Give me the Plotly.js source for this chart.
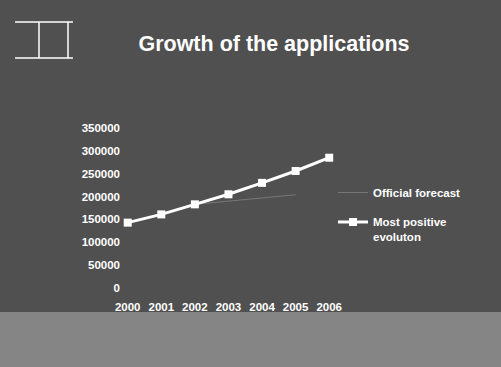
<!DOCTYPE html>
<html>
<head>
<meta charset="utf-8">
<script src="https://cdn.plot.ly/plotly-3.0.1.min.js"></script>
<style>
  html, body { margin: 0; padding: 0; background: #505050; }
  #chart { width: 501px; height: 367px; }
</style>
</head>
<body>
<div id="chart"></div>
<script>
// Data
const years = ['2000', '2001', '2002', '2003', '2004', '2005', '2006'];
const mostPositive = [143000, 161000, 183000, 205000, 230000, 256000, 285000];
const officialForecast = [143000, 161000, 183000, 190000, 197000, 204000, null];
const yTicks = [0, 50000, 100000, 150000, 200000, 250000, 300000, 350000];

const W = 501, H = 367;
const L = 121, R = 346, T = 128, B = 288;
const px = x => (x - L) / (R - L);
const py = y => (B - y) / (B - T);

const FONT = 'Liberation Sans, Arial, Helvetica, sans-serif';
const legendFont = { family: FONT, size: 11.5, color: '#ffffff', weight: 'bold' };

const traces = [
  {
    x: years, y: officialForecast, name: 'Official forecast',
    type: 'scatter', mode: 'lines', legend: 'legend',
    line: { color: 'rgba(150,150,150,0.55)', width: 1 },
    connectgaps: false
  },
  {
    x: years, y: mostPositive, name: 'Most positive<br>evoluton',
    type: 'scatter', mode: 'lines+markers', legend: 'legend2',
    line: { color: '#ffffff', width: 3 },
    marker: { symbol: 'square', size: 8, color: '#ffffff' }
  }
];

const iconLine = { color: '#ffffff', width: 1.5 };
const shapes = [
  // bottom band of the slide
  { type: 'rect', xref: 'paper', yref: 'paper', x0: px(0), x1: px(W), y0: py(367), y1: py(312),
    fillcolor: '#858585', line: { width: 0 }, layer: 'below' },
  // frame icon in the top-left corner
  { type: 'line', xref: 'paper', yref: 'paper', x0: px(15), x1: px(73), y0: py(22), y1: py(22), line: iconLine },
  { type: 'line', xref: 'paper', yref: 'paper', x0: px(15), x1: px(73), y0: py(58), y1: py(58), line: iconLine },
  { type: 'line', xref: 'paper', yref: 'paper', x0: px(39), x1: px(39), y0: py(22), y1: py(58), line: iconLine },
  { type: 'line', xref: 'paper', yref: 'paper', x0: px(68), x1: px(68), y0: py(22), y1: py(58), line: iconLine }
];

const layout = {
  width: W, height: H,
  paper_bgcolor: '#505050',
  plot_bgcolor: 'rgba(0,0,0,0)',
  margin: { l: L, r: W - R, t: T, b: H - B, pad: 0 },
  font: { family: FONT, color: '#ffffff', size: 11.5 },
  title: {
    text: '<b>Growth of the applications</b>',
    font: { family: FONT, size: 21.5, color: '#ffffff' },
    x: 274 / W, xref: 'container', xanchor: 'center',
    y: 1 - 43 / H, yref: 'container', yanchor: 'middle'
  },
  xaxis: {
    type: 'category', range: [-0.2, 6.5],
    showgrid: false, zeroline: false, showline: false,
    ticks: 'outside', ticklen: 8, tickcolor: 'rgba(0,0,0,0)',
    tickfont: { family: FONT, size: 11.5, color: '#ffffff', weight: 'bold' }
  },
  yaxis: {
    range: [0, 350000], tickvals: yTicks, tickformat: 'd',
    showgrid: false, zeroline: false, showline: false,
    ticks: '',
    tickfont: { family: FONT, size: 11.5, color: '#ffffff', weight: 'bold' }
  },
  showlegend: true,
  legend: {
    x: px(333), xanchor: 'left', y: py(178), yanchor: 'top',
    bgcolor: 'rgba(0,0,0,0)', font: legendFont
  },
  legend2: {
    x: px(333), xanchor: 'left', y: py(208), yanchor: 'top',
    bgcolor: 'rgba(0,0,0,0)', font: legendFont, valign: 'top'
  },
  shapes: shapes
};

Plotly.newPlot('chart', traces, layout, { displayModeBar: false, staticPlot: true });
</script>
</body>
</html>
